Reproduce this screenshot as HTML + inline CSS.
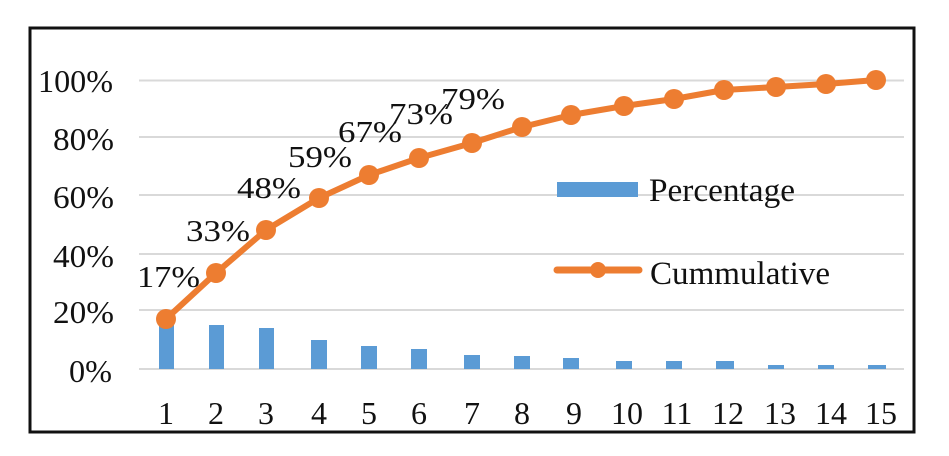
<!DOCTYPE html>
<html><head><style>
html,body{margin:0;padding:0;background:#fff;width:949px;height:456px;overflow:hidden}
svg text{font-family:"Liberation Serif",serif;fill:#111}
</style></head><body>
<svg width="949" height="456" viewBox="0 0 949 456">
<rect x="30" y="28" width="884" height="404" fill="#fff" stroke="#111" stroke-width="3"/>
<g stroke="#d9d9d9" stroke-width="2">
<line x1="139" x2="904" y1="80.5" y2="80.5"/>
<line x1="139" x2="904" y1="137" y2="137"/>
<line x1="139" x2="904" y1="195" y2="195"/>
<line x1="139" x2="904" y1="254" y2="254"/>
<line x1="139" x2="904" y1="310" y2="310"/>
<line x1="139" x2="904" y1="369" y2="369"/>
</g>
<g font-size="32">
<text x="38" y="92" textLength="75" lengthAdjust="spacingAndGlyphs">100%</text>
<text x="53" y="150" textLength="61" lengthAdjust="spacingAndGlyphs">80%</text>
<text x="53" y="208" textLength="61" lengthAdjust="spacingAndGlyphs">60%</text>
<text x="53" y="267" textLength="61" lengthAdjust="spacingAndGlyphs">40%</text>
<text x="53" y="323" textLength="61" lengthAdjust="spacingAndGlyphs">20%</text>
<text x="69" y="382" textLength="43" lengthAdjust="spacingAndGlyphs">0%</text>
</g>
<g fill="#5b9bd5">
<rect x="159" y="320" width="15" height="49"/>
<rect x="209" y="325" width="15" height="44"/>
<rect x="259" y="328" width="15" height="41"/>
<rect x="311" y="340" width="16" height="29"/>
<rect x="361" y="346" width="16" height="23"/>
<rect x="411" y="349" width="16" height="20"/>
<rect x="464" y="355" width="16" height="14"/>
<rect x="514" y="356" width="16" height="13"/>
<rect x="563" y="358" width="16" height="11"/>
<rect x="616" y="361" width="16" height="8"/>
<rect x="666" y="361" width="16" height="8"/>
<rect x="716" y="361" width="18" height="8"/>
<rect x="768" y="365" width="16" height="4"/>
<rect x="818" y="365" width="16" height="4"/>
<rect x="868" y="365" width="18" height="4"/>
</g>
<polyline fill="none" stroke="#ed7d31" stroke-width="6" stroke-linejoin="round" points="166,319 216,273 266,230 319,198 369,175 419,158 472,143 522,127 571,115 624,106 674,99 724,90 776,87 826,84 876,80"/>
<g fill="#ed7d31">
<circle cx="166" cy="319" r="10"/><circle cx="216" cy="273" r="10"/><circle cx="266" cy="230" r="10"/><circle cx="319" cy="198" r="10"/><circle cx="369" cy="175" r="10"/><circle cx="419" cy="158" r="10"/><circle cx="472" cy="143" r="10"/><circle cx="522" cy="127" r="10"/><circle cx="571" cy="115" r="10"/><circle cx="624" cy="106" r="10"/><circle cx="674" cy="99" r="10"/><circle cx="724" cy="90" r="10"/><circle cx="776" cy="87" r="10"/><circle cx="826" cy="84" r="10"/><circle cx="876" cy="80" r="10"/>
</g>
<g font-size="31">
<text x="137" y="287" textLength="63" lengthAdjust="spacingAndGlyphs">17%</text>
<text x="186" y="241" textLength="64" lengthAdjust="spacingAndGlyphs">33%</text>
<text x="237" y="198" textLength="64" lengthAdjust="spacingAndGlyphs">48%</text>
<text x="288" y="167" textLength="64" lengthAdjust="spacingAndGlyphs">59%</text>
<text x="338" y="142" textLength="64" lengthAdjust="spacingAndGlyphs">67%</text>
<text x="389" y="124" textLength="64" lengthAdjust="spacingAndGlyphs">73%</text>
<text x="441" y="109" textLength="64" lengthAdjust="spacingAndGlyphs">79%</text>
</g>
<g font-size="32" text-anchor="middle">
<text x="166" y="424">1</text><text x="216" y="424">2</text><text x="266" y="424">3</text><text x="319" y="424">4</text><text x="369" y="424">5</text><text x="419" y="424">6</text><text x="472" y="424">7</text><text x="522" y="424">8</text><text x="574" y="424">9</text><text x="627" y="424">10</text><text x="677" y="424">11</text><text x="728" y="424">12</text><text x="780" y="424">13</text><text x="831" y="424">14</text><text x="881" y="424">15</text>
</g>
<rect x="557" y="182" width="81" height="15" fill="#5b9bd5"/>
<text x="649" y="201" font-size="33" textLength="146" lengthAdjust="spacingAndGlyphs">Percentage</text>
<line x1="557" x2="639" y1="270" y2="270" stroke="#ed7d31" stroke-width="7" stroke-linecap="round"/>
<circle cx="598" cy="270" r="8" fill="#ed7d31"/>
<text x="650" y="284" font-size="33" textLength="180" lengthAdjust="spacingAndGlyphs">Cummulative</text>
</svg>
</body></html>
